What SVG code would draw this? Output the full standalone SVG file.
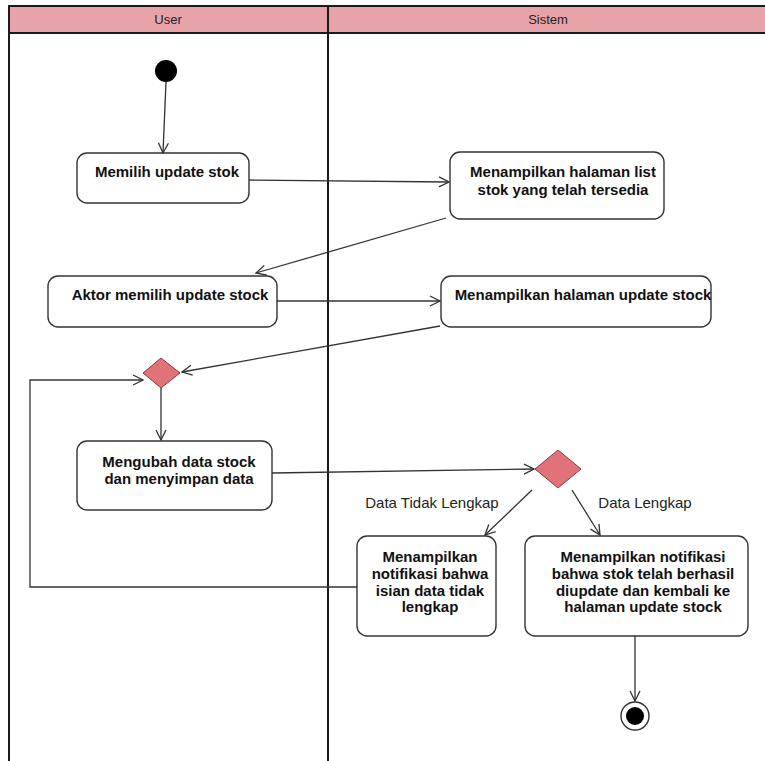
<svg xmlns="http://www.w3.org/2000/svg" width="765" height="761" viewBox="0 0 765 761">
  <defs>
    <marker id="open" viewBox="0 0 12 12" refX="11" refY="6" markerWidth="12" markerHeight="12" markerUnits="userSpaceOnUse" orient="auto">
      <path d="M1,1 L11,6 L1,11" fill="none" stroke="#333" stroke-width="1.3"/>
    </marker>
  </defs>
  <style>
    .lane { stroke: #1a1a1a; stroke-width: 2; fill: none; }
    .act rect { fill: #ffffff; stroke: #333333; stroke-width: 1.4; }
    .act text { font-family: "Liberation Sans", Arial, sans-serif; font-weight: bold; font-size: 15px; fill: #111; text-anchor: middle; }
    .hdr { font-family: "Liberation Sans", Arial, sans-serif; font-size: 13px; fill: #222; text-anchor: middle; }
    .guard { font-family: "Liberation Sans", Arial, sans-serif; font-size: 15px; fill: #222; text-anchor: middle; }
    .conn { stroke: #333333; stroke-width: 1.3; fill: none; marker-end: url(#open); }
    .dec polygon { fill: #e2727a; stroke: #8a3b3f; stroke-width: 1; }
  </style>

  <rect width="765" height="761" fill="#ffffff"/>

  <!-- swimlane header -->
  <g id="lanes">
    <rect x="9" y="6" width="756" height="27" fill="#e8a3a9"/>
    <line class="lane" x1="9" y1="6" x2="765" y2="6"/>
    <line class="lane" x1="9" y1="33" x2="765" y2="33"/>
    <line class="lane" x1="9" y1="5" x2="9" y2="761"/>
    <line class="lane" x1="328" y1="5" x2="328" y2="761"/>
    <text class="hdr" x="168" y="24">User</text>
    <text class="hdr" x="548" y="24">Sistem</text>
  </g>

  <!-- start node -->
  <g id="start">
    <circle cx="166" cy="71" r="11" fill="#000"/>
  </g>

  <g id="a1" class="act">
    <rect x="77" y="153" width="172" height="50" rx="10"/>
    <text x="167" y="177">Memilih update stok</text>
  </g>

  <g id="s1" class="act">
    <rect x="450" y="152" width="214" height="67" rx="10"/>
    <text x="563" y="177">Menampilkan halaman list</text>
    <text x="563" y="195">stok yang telah tersedia</text>
  </g>

  <g id="a2" class="act">
    <rect x="48" y="276" width="229" height="51" rx="10"/>
    <text x="170" y="300">Aktor memilih update stock</text>
  </g>

  <g id="s2" class="act">
    <rect x="441" y="276" width="270" height="51" rx="10"/>
    <text x="583" y="300">Menampilkan halaman update stock</text>
  </g>

  <g id="d1" class="dec">
    <polygon points="161,358 180,373 161,388 143,373"/>
  </g>

  <g id="a3" class="act">
    <rect x="77" y="441" width="195" height="69" rx="10"/>
    <text x="179" y="467">Mengubah data stock</text>
    <text x="179" y="484">dan menyimpan data</text>
  </g>

  <g id="d2" class="dec">
    <polygon points="558,450 581,469 558,488 535,469"/>
  </g>

  <g id="s3" class="act">
    <rect x="357" y="536" width="139" height="100" rx="10"/>
    <text x="430" y="562">Menampilkan</text>
    <text x="430" y="579">notifikasi bahwa</text>
    <text x="430" y="596">isian data tidak</text>
    <text x="430" y="612">lengkap</text>
  </g>

  <g id="s4" class="act">
    <rect x="525" y="536" width="223" height="100" rx="10"/>
    <text x="643" y="562">Menampilkan notifikasi</text>
    <text x="643" y="579">bahwa stok telah berhasil</text>
    <text x="643" y="596">diupdate dan kembali ke</text>
    <text x="643" y="612">halaman update stock</text>
  </g>

  <!-- final node -->
  <g id="end">
    <circle cx="635" cy="716" r="14" fill="#fff" stroke="#333" stroke-width="1.4"/>
    <circle cx="635" cy="716" r="9" fill="#000"/>
  </g>

  <!-- transitions -->
  <g id="connectors">
    <line class="conn" x1="166" y1="82" x2="163" y2="153"/>
    <line class="conn" x1="249" y1="180" x2="449" y2="182"/>
    <line class="conn" x1="446" y1="218" x2="256" y2="273"/>
    <line class="conn" x1="277" y1="301" x2="440" y2="301"/>
    <line class="conn" x1="440" y1="326" x2="182" y2="372"/>
    <line class="conn" x1="161" y1="388" x2="161" y2="440"/>
    <line class="conn" x1="272" y1="473" x2="534" y2="469"/>
    <polyline class="conn" points="357,587 30,587 30,380 143,380"/>
    <line class="conn" x1="532" y1="490" x2="485" y2="535"/>
    <line class="conn" x1="572" y1="490" x2="600" y2="535"/>
    <line class="conn" x1="635" y1="636" x2="635" y2="701"/>
    <text class="guard" x="432" y="508">Data Tidak Lengkap</text>
    <text class="guard" x="645" y="508">Data Lengkap</text>
  </g>
</svg>
